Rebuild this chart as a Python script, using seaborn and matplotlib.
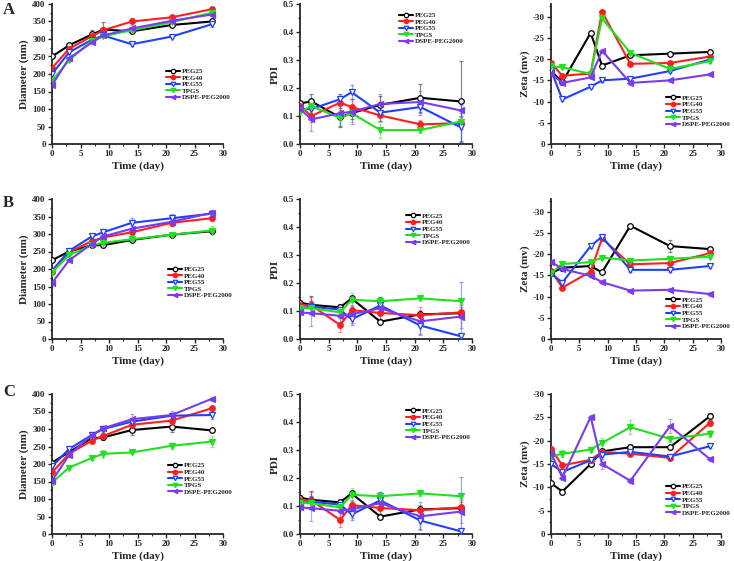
import matplotlib
matplotlib.use("Agg")
import matplotlib.pyplot as plt
import seaborn as sns
import pandas as pd
from matplotlib.ticker import AutoMinorLocator

# ---- data ----
series = ["PEG25", "PEG40", "PEG55", "TPGS", "DSPE-PEG2000"]
days_d = [0, 3, 7, 9, 14, 21, 28]
days_p = [0, 2, 7, 9, 14, 21, 28]

# row A
diam_A = {"PEG25": [250, 282, 313, 327, 322, 340, 350],
          "PEG40": [217, 272, 308, 325, 350, 362, 385],
          "PEG55": [200, 262, 298, 310, 285, 307, 342],
          "TPGS": [180, 240, 295, 308, 325, 348, 375],
          "DSPE-PEG2000": [168, 245, 290, 310, 330, 352, 370]}
diam_A_err = {"PEG25": [3, 5, 12, 22, 5, 5, 5],
              "PEG40": [4, 4, 5, 5, 10, 5, 5],
              "PEG55": [4, 4, 5, 5, 5, 4, 8],
              "TPGS": [3, 4, 4, 4, 4, 4, 4],
              "DSPE-PEG2000": [3, 4, 4, 4, 5, 4, 5]}
pdi_A = {"PEG25": [0.145, 0.152, 0.095, 0.110, 0.140, 0.165, 0.152],
         "PEG40": [0.135, 0.100, 0.148, 0.132, 0.102, 0.070, 0.075],
         "PEG55": [0.125, 0.125, 0.160, 0.185, 0.112, 0.132, 0.060],
         "TPGS": [0.115, 0.135, 0.093, 0.110, 0.050, 0.050, 0.080],
         "DSPE-PEG2000": [0.125, 0.088, 0.110, 0.115, 0.143, 0.150, 0.120]}
pdi_A_err = {"PEG25": [0.01, 0.025, 0.035, 0.02, 0.03, 0.05, 0.145],
             "PEG40": [0.01, 0.02, 0.03, 0.03, 0.02, 0.015, 0.02],
             "PEG55": [0.01, 0.02, 0.02, 0.025, 0.03, 0.03, 0.05],
             "TPGS": [0.01, 0.02, 0.03, 0.03, 0.03, 0.01, 0.02],
             "DSPE-PEG2000": [0.01, 0.04, 0.045, 0.045, 0.035, 0.04, 0.02]}
zeta_A = {"PEG25": [-17.2, -14.6, -26.2, -18.5, -20.9, -21.3, -21.7],
          "PEG40": [-19.1, -16.1, -16.6, -31.2, -18.9, -19.1, -20.6],
          "PEG55": [-17.4, -10.5, -13.5, -15.0, -15.4, -17.2, -19.9],
          "TPGS": [-18.3, -18.1, -16.5, -29.6, -21.5, -17.7, -19.5],
          "DSPE-PEG2000": [-16.6, -14.4, -15.7, -22.0, -14.4, -15.0, -16.4]}
zeta_A_err = {"PEG25": [0.4, 0.4, 0.4, 0.5, 0.4, 0.4, 0.4],
              "PEG40": [0.4, 0.4, 0.4, 0.5, 0.4, 0.4, 0.4],
              "PEG55": [0.4, 0.4, 0.4, 0.4, 0.4, 0.4, 0.4],
              "TPGS": [0.4, 0.4, 0.4, 0.5, 0.4, 0.4, 0.4],
              "DSPE-PEG2000": [0.4, 0.4, 0.4, 0.5, 0.4, 0.4, 0.4]}

# row B
diam_B = {"PEG25": [225, 250, 268, 268, 283, 298, 308],
          "PEG40": [192, 248, 280, 290, 305, 332, 345],
          "PEG55": [195, 252, 293, 305, 332, 345, 358],
          "TPGS": [190, 240, 268, 275, 285, 298, 310],
          "DSPE-PEG2000": [160, 225, 272, 293, 315, 335, 360]}
diam_B_err = {"PEG25": [4, 5, 5, 5, 5, 5, 5],
              "PEG40": [4, 5, 6, 6, 8, 8, 8],
              "PEG55": [4, 6, 6, 10, 15, 12, 10],
              "TPGS": [4, 5, 5, 5, 8, 5, 12],
              "DSPE-PEG2000": [4, 5, 6, 8, 8, 12, 10]}
pdi_B = {"PEG25": [0.130, 0.122, 0.113, 0.145, 0.062, 0.088, 0.092],
         "PEG40": [0.120, 0.120, 0.050, 0.103, 0.093, 0.085, 0.095],
         "PEG55": [0.110, 0.115, 0.105, 0.070, 0.120, 0.048, 0.010],
         "TPGS": [0.110, 0.110, 0.095, 0.140, 0.135, 0.145, 0.135],
         "DSPE-PEG2000": [0.095, 0.092, 0.083, 0.088, 0.110, 0.063, 0.080]}
pdi_B_err = {"PEG25": [0.01, 0.03, 0.01, 0.01, 0.01, 0.01, 0.01],
             "PEG40": [0.01, 0.03, 0.025, 0.02, 0.02, 0.02, 0.02],
             "PEG55": [0.01, 0.02, 0.02, 0.02, 0.03, 0.03, 0.195],
             "TPGS": [0.01, 0.02, 0.02, 0.025, 0.015, 0.01, 0.01],
             "DSPE-PEG2000": [0.01, 0.045, 0.04, 0.03, 0.04, 0.05, 0.04]}
zeta_B = {"PEG25": [-15.5, -16.8, -17.2, -15.7, -26.7, -21.9, -21.2],
          "PEG40": [-16.1, -12.1, -15.9, -23.7, -17.6, -17.9, -20.2],
          "PEG55": [-15.5, -13.3, -21.9, -24.1, -16.3, -16.3, -17.2],
          "TPGS": [-15.5, -17.7, -18.1, -19.2, -18.5, -18.9, -19.4],
          "DSPE-PEG2000": [-18.2, -16.5, -14.9, -13.4, -11.4, -11.6, -10.6]}
zeta_B_err = {"PEG25": [0.4, 0.4, 0.4, 0.4, 0.4, 1.5, 0.5],
              "PEG40": [0.4, 0.4, 0.4, 0.4, 0.4, 0.4, 0.4],
              "PEG55": [0.4, 0.4, 0.4, 0.4, 0.4, 0.4, 0.4],
              "TPGS": [0.4, 0.4, 0.4, 0.4, 0.4, 0.4, 0.4],
              "DSPE-PEG2000": [0.4, 0.4, 0.4, 0.4, 0.4, 0.4, 0.4]}

# row C (PDI identical to row B in the figure)
diam_C = {"PEG25": [204, 234, 274, 276, 297, 307, 296],
          "PEG40": [176, 229, 267, 280, 312, 324, 359],
          "PEG55": [193, 243, 283, 300, 321, 338, 340],
          "TPGS": [147, 190, 217, 229, 233, 252, 264],
          "DSPE-PEG2000": [152, 226, 283, 302, 328, 340, 386]}
diam_C_err = {"PEG25": [4, 5, 6, 6, 15, 15, 5],
              "PEG40": [4, 5, 6, 8, 8, 8, 8],
              "PEG55": [4, 5, 8, 8, 10, 8, 10],
              "TPGS": [4, 5, 5, 12, 5, 8, 15],
              "DSPE-PEG2000": [4, 5, 8, 8, 15, 12, 5]}
pdi_C = pdi_B
pdi_C_err = pdi_B_err
zeta_C = {"PEG25": [-10.9, -9.1, -15.0, -17.7, -18.6, -18.6, -25.2],
          "PEG40": [-18.3, -14.7, -15.9, -17.6, -17.2, -16.3, -23.8],
          "PEG55": [-15.0, -13.3, -15.8, -17.0, -17.6, -16.6, -18.8],
          "TPGS": [-16.6, -17.2, -18.1, -19.5, -22.9, -20.4, -21.5],
          "DSPE-PEG2000": [-17.4, -12.1, -25.1, -15.0, -11.4, -23.1, -16.1]}
zeta_C_err = {"PEG25": [0.4, 0.6, 0.5, 0.5, 0.6, 0.5, 0.8],
              "PEG40": [0.4, 0.4, 0.4, 0.5, 0.5, 0.4, 0.6],
              "PEG55": [0.4, 0.4, 0.4, 0.4, 0.4, 0.4, 0.4],
              "TPGS": [0.4, 0.8, 0.5, 1.0, 1.5, 0.6, 0.8],
              "DSPE-PEG2000": [0.4, 0.5, 0.5, 1.0, 0.5, 1.5, 0.5]}

# ---- styles ----
colors = {"PEG25": "#000000", "PEG40": "#ff1f1f", "PEG55": "#2040ff",
          "TPGS": "#20e020", "DSPE-PEG2000": "#7a3cf0"}
markers = {"PEG25": "o", "PEG40": "o", "PEG55": "v", "TPGS": "v", "DSPE-PEG2000": "<"}
hollow = {"PEG25": True, "PEG40": False, "PEG55": True, "TPGS": False, "DSPE-PEG2000": False}

sns.set_style("ticks")
plt.rcParams["font.family"] = ["Liberation Serif", "DejaVu Serif"]
plt.rcParams["font.weight"] = "bold"
plt.rcParams["axes.unicode_minus"] = False

fig = plt.figure(figsize=(7.34, 5.61), dpi=100)
W, H = 734.0, 561.0


def panel(left, top, width, height):
    return fig.add_axes([left / W, (H - top - height) / H, width / W, height / H])


def draw(ax, days, vals, errs, kind, leg_xy):
    for s in series:
        df = pd.DataFrame({"day": days, "val": vals[s]})
        ax.errorbar(days, vals[s], yerr=errs[s], fmt="none", ecolor=colors[s],
                    alpha=0.45, elinewidth=0.9, capsize=1.5, capthick=0.9, zorder=1)
        sns.lineplot(data=df, x="day", y="val", ax=ax, color=colors[s], label=s,
                     marker=markers[s], markersize=4, linewidth=1.5,
                     markerfacecolor="white" if hollow[s] else colors[s],
                     markeredgecolor=colors[s], markeredgewidth=0.9, zorder=3)
    ax.set_xlim(0, 30)
    ax.set_xticks(range(0, 31, 5))
    if kind == "diam":
        ax.set_ylim(0, 400)
        ax.set_yticks(range(0, 401, 50))
        ax.set_ylabel("Diameter (nm)", fontsize=8, fontweight="bold", labelpad=2)
    elif kind == "pdi":
        ax.set_ylim(0, 0.5)
        ax.set_yticks([0.0, 0.1, 0.2, 0.3, 0.4, 0.5])
        ax.set_yticklabels(["0.0", "0.1", "0.2", "0.3", "0.4", "0.5"])
        ax.set_ylabel("PDI", fontsize=8, fontweight="bold", labelpad=2)
    else:
        ax.set_yticks(range(0, -31, -5))
        ax.set_ylabel("Zeta (mv)", fontsize=8, fontweight="bold", labelpad=2)
    ax.set_xlabel("Time (day)", fontsize=8, fontweight="bold", labelpad=2)
    ax.xaxis.set_minor_locator(AutoMinorLocator(2))
    ax.yaxis.set_minor_locator(AutoMinorLocator(2))
    ax.tick_params(which="major", direction="out", length=3, width=1.0, labelsize=6.5, pad=1.5)
    ax.tick_params(which="minor", direction="out", length=1.5, width=0.8)
    for lab in ax.get_xticklabels() + ax.get_yticklabels():
        lab.set_fontweight("bold")
    sns.despine(ax=ax)
    for sp in ["left", "bottom"]:
        ax.spines[sp].set_linewidth(1.3)
    ax.legend(loc="upper left", bbox_to_anchor=leg_xy, frameon=False,
              handlelength=2.0, labelspacing=0.1, borderaxespad=0, handletextpad=0.3,
              markerscale=0.8, prop={"weight": "bold", "size": 5})


cols = [(52, 171), (300, 172), (551, 170)]
rows = [4, 199, 394]

rows_data = [
    (diam_A, diam_A_err, pdi_A, pdi_A_err, zeta_A, zeta_A_err,
     [(0.65, 0.56), (0.56, 0.96), (0.66, 0.37)], -33),
    (diam_B, diam_B_err, pdi_B, pdi_B_err, zeta_B, zeta_B_err,
     [(0.66, 0.54), (0.60, 0.92), (0.66, 0.32)], -33),
    (diam_C, diam_C_err, pdi_C, pdi_C_err, zeta_C, zeta_C_err,
     [(0.66, 0.53), (0.60, 0.92), (0.66, 0.38)], -30),
]

for r, top in enumerate(rows):
    d, de, p, pe, z, ze, legs, zmin = rows_data[r]
    ax1 = panel(cols[0][0], top, cols[0][1], 140)
    draw(ax1, days_d, d, de, "diam", legs[0])
    ax2 = panel(cols[1][0], top, cols[1][1], 140)
    draw(ax2, days_p, p, pe, "pdi", legs[1])
    ax3 = panel(cols[2][0], top, cols[2][1], 140)
    draw(ax3, days_p, z, ze, "zeta", legs[2])
    ax3.set_ylim(0, zmin)

for letter, y in zip(["A", "B", "C"], [10, 203, 392]):
    fig.text(3 / W, 1 - y / H, letter, fontsize=12, fontweight="bold", va="center", ha="left")

fig.savefig("out.png", dpi=100)
